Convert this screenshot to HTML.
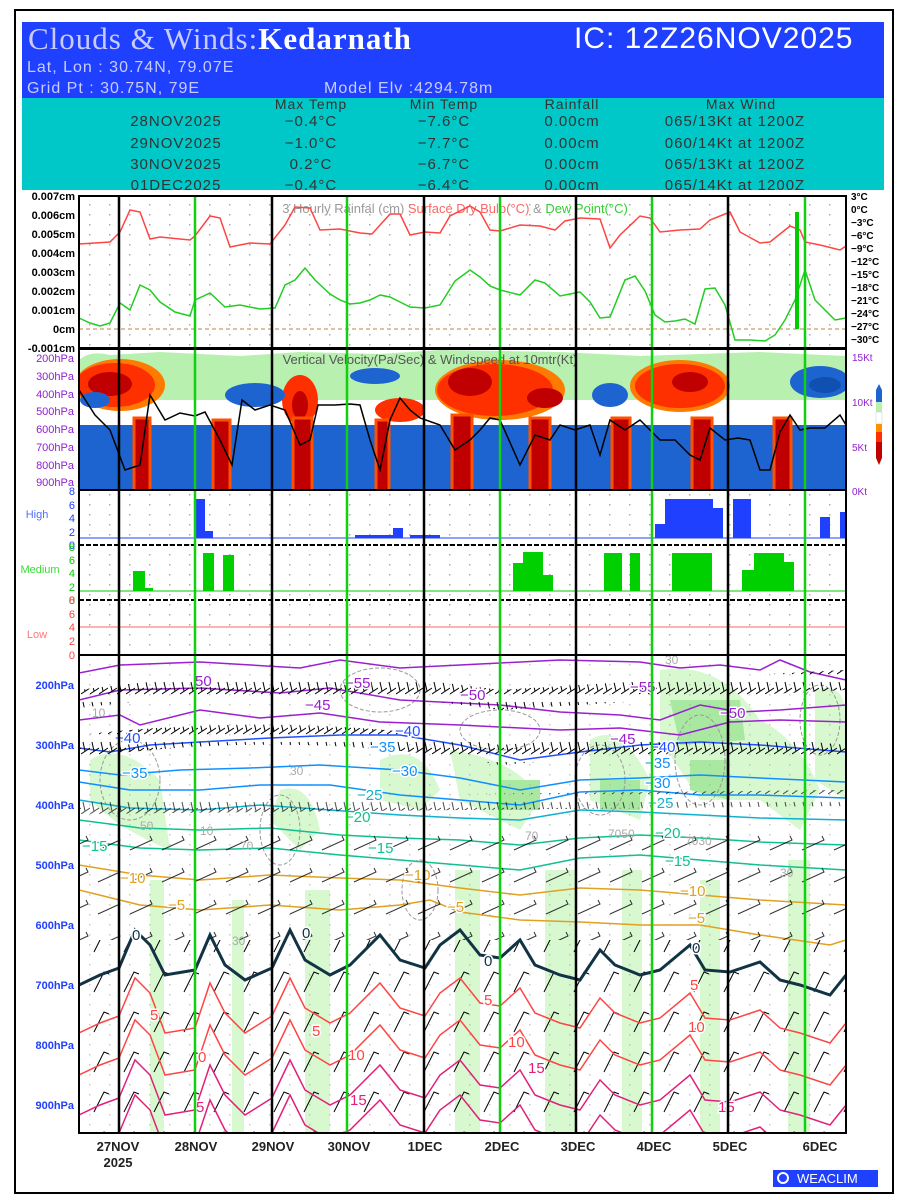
<!DOCTYPE html>
<html><head><meta charset="utf-8"><style>
html,body{margin:0;padding:0;background:#fff;}
svg{display:block;font-family:"Liberation Sans",sans-serif;}
</style></head><body>
<svg width="900" height="1200" viewBox="0 0 900 1200" xmlns="http://www.w3.org/2000/svg">
<defs>
<clipPath id="cb"><rect x="79" y="655" width="767" height="478"/></clipPath>
<clipPath id="c2"><rect x="79" y="349" width="767" height="141"/></clipPath>
<pattern id="dots" width="20" height="10" patternUnits="userSpaceOnUse"><rect x="9" y="4" width="1.5" height="1.5" fill="#aaa"/></pattern>
<pattern id="barbs" width="9" height="20" patternUnits="userSpaceOnUse"><path d="M0 14 L9 8 M4 11 L2 2" stroke="#000" stroke-width="1" fill="none"/></pattern>
<pattern id="lowbarbs" width="30" height="40" patternUnits="userSpaceOnUse"><path d="M4 32 L14 12 L19 14" stroke="#000" stroke-width="1" fill="none"/></pattern>
<pattern id="midbarbs" width="32" height="32" patternUnits="userSpaceOnUse"><path d="M2 18 L24 8 L22 4" stroke="#000" stroke-width="1" fill="none"/></pattern>
</defs>
<rect x="15" y="10" width="878" height="1183" fill="#fff" stroke="#000" stroke-width="2"/>
<rect x="22" y="22" width="862" height="76" fill="#2040ff"/>
<text x="28" y="49" font-family="Liberation Serif,serif" font-size="31" fill="#c8ccff" letter-spacing="1">Clouds &amp; Winds:<tspan fill="#fff" font-weight="bold">Kedarnath</tspan></text>
<text x="574" y="48" font-size="30" fill="#fff" letter-spacing="1">IC: 12Z26NOV2025</text>
<text x="27" y="72" font-size="16" fill="#c8ccff" letter-spacing="1">Lat, Lon : 30.74N, 79.07E</text>
<text x="27" y="93" font-size="16" fill="#c8ccff" letter-spacing="1">Grid Pt  : 30.75N, 79E</text>
<text x="324" y="93" font-size="16" fill="#c8ccff" letter-spacing="1">Model Elv :4294.78m</text>
<rect x="22" y="98" width="862" height="92" fill="#00c8c8"/>
<g font-size="14" fill="#333" text-anchor="middle" letter-spacing="1">
<text x="311" y="109">Max Temp</text><text x="444" y="109">Min Temp</text><text x="572" y="109">Rainfall</text><text x="741" y="109">Max Wind</text>
</g>
<g font-size="15" fill="#333" text-anchor="middle" letter-spacing="1">
<text x="176" y="126">28NOV2025</text><text x="311" y="126">−0.4°C</text><text x="444" y="126">−7.6°C</text><text x="572" y="126">0.00cm</text><text x="735" y="126">065/13Kt at 1200Z</text>
<text x="176" y="148">29NOV2025</text><text x="311" y="148">−1.0°C</text><text x="444" y="148">−7.7°C</text><text x="572" y="148">0.00cm</text><text x="735" y="148">060/14Kt at 1200Z</text>
<text x="176" y="169">30NOV2025</text><text x="311" y="169">0.2°C</text><text x="444" y="169">−6.7°C</text><text x="572" y="169">0.00cm</text><text x="735" y="169">065/13Kt at 1200Z</text>
<text x="176" y="190">01DEC2025</text><text x="311" y="190">−0.4°C</text><text x="444" y="190">−6.4°C</text><text x="572" y="190">0.00cm</text><text x="735" y="190">065/14Kt at 1200Z</text>
</g>
<rect x="79" y="196" width="767" height="152" fill="url(#dots)"/>
<line x1="79" y1="329" x2="846" y2="329" stroke="#c08040" stroke-dasharray="4,3"/>
<text x="455" y="213" font-size="13" fill="#999" text-anchor="middle">3 Hourly Rainfal (cm) <tspan fill="#f66">Surface Dry Bulb(°C)</tspan> &amp; <tspan fill="#3c3">Dew Point(°C)</tspan></text>
<polyline fill="none" stroke="#f44" stroke-width="1.5" points="79,244 95,243 110,242 120,232 130,210 140,212 150,239 160,237 190,240 195,236 210,216 220,218 230,247 250,243 270,244 285,225 295,207 310,208 320,230 340,229 360,233 372,234 390,214 400,214 410,235 425,232 440,233 450,216 470,206 480,212 490,230 500,231 520,225 540,226 555,230 565,221 580,218 600,219 610,248 620,235 640,216 650,218 660,232 680,230 700,229 710,220 730,212 740,232 760,243 770,242 780,234 790,226 800,230 805,242 820,245 840,250 846,246"/>
<polyline fill="none" stroke="#2c2" stroke-width="1.5" points="79,318 90,323 100,326 110,323 120,303 130,310 140,285 150,290 160,302 175,312 190,316 195,300 210,293 225,307 240,305 260,309 275,308 285,285 295,280 305,268 315,280 330,294 340,300 350,304 360,303 370,300 380,295 390,297 400,302 410,307 425,308 440,305 455,281 470,270 480,277 490,286 500,290 520,295 535,280 545,283 560,296 580,292 590,302 600,318 610,317 625,280 635,276 645,291 655,315 665,322 675,321 685,319 695,324 705,289 715,288 725,305 735,340 750,340 765,341 775,335 785,320 795,300 805,270 815,300 825,310 835,320 846,318"/>
<rect x="795" y="212" width="4" height="117" fill="#0c0"/>
<g font-size="11" font-weight="bold" text-anchor="end" fill="#000">
<text x="75" y="200">0.007cm</text><text x="75" y="219">0.006cm</text><text x="75" y="238">0.005cm</text><text x="75" y="257">0.004cm</text><text x="75" y="276">0.003cm</text><text x="75" y="295">0.002cm</text><text x="75" y="314">0.001cm</text><text x="75" y="333">0cm</text><text x="75" y="352">-0.001cm</text>
</g>
<g font-size="10" font-weight="bold" fill="#000">
<text x="851" y="200">3°C</text><text x="851" y="213">0°C</text><text x="851" y="226">−3°C</text><text x="851" y="239">−6°C</text><text x="851" y="252">−9°C</text><text x="851" y="265">−12°C</text><text x="851" y="278">−15°C</text><text x="851" y="291">−18°C</text><text x="851" y="304">−21°C</text><text x="851" y="317">−24°C</text><text x="851" y="330">−27°C</text><text x="851" y="343">−30°C</text>
</g>
<rect x="79" y="349" width="767" height="141" fill="#fff"/>
<g clip-path="url(#c2)">
<path d="M79 360 Q90 350 110 355 L160 352 L240 356 L300 352 L380 354 L440 350 L560 352 L640 356 L760 352 L846 356 L846 400 L79 400Z" fill="#b8f0b0"/>
<ellipse cx="120" cy="385" rx="45" ry="26" fill="#ff7a00"/><ellipse cx="115" cy="385" rx="40" ry="22" fill="#ff3000"/><ellipse cx="110" cy="384" rx="22" ry="12" fill="#c00000"/>
<ellipse cx="300" cy="400" rx="18" ry="25" fill="#ff3000"/><ellipse cx="300" cy="405" rx="8" ry="14" fill="#c00000"/>
<ellipse cx="255" cy="395" rx="30" ry="12" fill="#1e64d0"/><ellipse cx="95" cy="400" rx="15" ry="8" fill="#1e64d0"/>
<ellipse cx="500" cy="390" rx="65" ry="30" fill="#ff7a00"/><ellipse cx="495" cy="390" rx="58" ry="26" fill="#ff3000"/><ellipse cx="470" cy="382" rx="22" ry="14" fill="#c00000"/><ellipse cx="545" cy="398" rx="18" ry="10" fill="#c00000"/>
<ellipse cx="400" cy="410" rx="25" ry="12" fill="#ff3000"/><ellipse cx="375" cy="376" rx="25" ry="8" fill="#1e64d0"/>
<ellipse cx="680" cy="386" rx="50" ry="26" fill="#ff7a00"/><ellipse cx="680" cy="386" rx="45" ry="22" fill="#ff3000"/><ellipse cx="690" cy="382" rx="18" ry="10" fill="#c00000"/>
<ellipse cx="610" cy="395" rx="18" ry="12" fill="#1e64d0"/><ellipse cx="820" cy="382" rx="30" ry="16" fill="#1e64d0"/><ellipse cx="825" cy="385" rx="16" ry="8" fill="#1050b0"/>
<rect x="79" y="425" width="767" height="65" fill="#1e64d0"/>
<g fill="#c00000" stroke="#ff5000" stroke-width="3">
<rect x="134" y="418" width="16" height="75"/><rect x="213" y="420" width="17" height="73"/><rect x="293" y="418" width="19" height="75"/><rect x="376" y="420" width="13" height="73"/><rect x="452" y="415" width="20" height="78"/><rect x="530" y="418" width="20" height="75"/><rect x="612" y="418" width="18" height="75"/><rect x="692" y="418" width="20" height="75"/><rect x="774" y="418" width="17" height="75"/>
</g>
</g>
<text x="430" y="364" font-size="13" fill="#555" text-anchor="middle">Vertical Velocity(Pa/Sec) &amp; Windspeed at 10mtr(Kt)</text>
<polyline fill="none" stroke="#000" stroke-width="1.5" points="79,390 95,415 110,430 125,470 140,465 150,395 165,420 180,413 195,416 205,412 220,440 232,465 242,400 255,410 270,405 285,410 300,445 310,440 318,405 335,405 350,404 360,405 370,440 380,470 390,420 400,398 410,410 420,418 440,425 455,450 470,440 480,430 490,418 500,420 520,465 535,435 550,440 560,425 575,430 590,425 600,455 610,420 625,430 640,420 660,440 675,440 690,455 700,460 710,428 725,440 738,438 750,440 760,470 770,470 780,432 790,415 800,430 810,428 825,428 840,415 846,425"/>
<g font-size="11" fill="#9020d0" text-anchor="end">
<text x="74" y="362">200hPa</text><text x="74" y="380">300hPa</text><text x="74" y="398">400hPa</text><text x="74" y="415">500hPa</text><text x="74" y="433">600hPa</text><text x="74" y="451">700hPa</text><text x="74" y="469">800hPa</text><text x="74" y="486">900hPa</text>
</g>
<g font-size="10" fill="#9020d0"><text x="852" y="361">15Kt</text><text x="852" y="406">10Kt</text><text x="852" y="451">5Kt</text><text x="852" y="495">0Kt</text></g>
<g><rect x="876" y="390" width="6" height="12" fill="#1e64d0"/><rect x="876" y="402" width="6" height="10" fill="#b8f0b0"/><rect x="876" y="412" width="6" height="12" fill="#fff" stroke="#ccc" stroke-width="0.5"/><rect x="876" y="424" width="6" height="8" fill="#ff9000"/><rect x="876" y="432" width="6" height="10" fill="#ff3000"/><rect x="876" y="442" width="6" height="16" fill="#c00000"/><path d="M876 390 L879 384 L882 390Z" fill="#1e64d0"/><path d="M876 458 L879 465 L882 458Z" fill="#c00000"/></g>
<rect x="79" y="491" width="767" height="164" fill="url(#dots)"/>
<line x1="79" y1="545" x2="846" y2="545" stroke="#000" stroke-width="2" stroke-dasharray="5,2"/>
<line x1="79" y1="600" x2="846" y2="600" stroke="#000" stroke-width="2" stroke-dasharray="5,2"/>
<line x1="79" y1="538" x2="846" y2="538" stroke="#2040ff" stroke-width="1"/>
<g fill="#2040ff"><rect x="195" y="499" width="10" height="39"/><rect x="205" y="531" width="8" height="7"/><rect x="355" y="535" width="40" height="3"/><rect x="393" y="528" width="10" height="10"/><rect x="410" y="535" width="30" height="3"/><rect x="655" y="524" width="10" height="14"/><rect x="665" y="499" width="48" height="39"/><rect x="713" y="508" width="10" height="30"/><rect x="733" y="499" width="18" height="39"/><rect x="820" y="517" width="10" height="21"/><rect x="840" y="512" width="6" height="26"/></g>
<line x1="79" y1="591" x2="846" y2="591" stroke="#0c0" stroke-width="1"/>
<g fill="#00d000"><rect x="133" y="571" width="12" height="20"/><rect x="145" y="588" width="8" height="3"/><rect x="203" y="553" width="11" height="38"/><rect x="223" y="555" width="11" height="36"/><rect x="513" y="563" width="10" height="28"/><rect x="523" y="552" width="20" height="39"/><rect x="543" y="575" width="10" height="16"/><rect x="604" y="553" width="18" height="38"/><rect x="630" y="553" width="10" height="38"/><rect x="672" y="553" width="40" height="38"/><rect x="742" y="570" width="12" height="21"/><rect x="754" y="553" width="30" height="38"/><rect x="784" y="562" width="10" height="29"/></g>
<line x1="79" y1="627" x2="846" y2="627" stroke="#f66" stroke-width="1"/>
<text x="37" y="518" font-size="11" fill="#5070ff" text-anchor="middle">High</text>
<text x="40" y="573" font-size="11" fill="#3d3" text-anchor="middle">Medium</text>
<text x="37" y="638" font-size="11" fill="#f77" text-anchor="middle">Low</text>
<g font-size="11" text-anchor="end">
<text x="75" y="495" fill="#2040ff">8</text><text x="75" y="509" fill="#2040ff">6</text><text x="75" y="522" fill="#2040ff">4</text><text x="75" y="536" fill="#2040ff">2</text><text x="75" y="549" fill="#2040ff">0</text>
<text x="75" y="551" fill="#0c0">8</text><text x="75" y="564" fill="#0c0">6</text><text x="75" y="577" fill="#0c0">4</text><text x="75" y="591" fill="#0c0">2</text><text x="75" y="604" fill="#0c0">0</text>
<text x="75" y="604" fill="#f44">8</text><text x="75" y="618" fill="#f44">6</text><text x="75" y="631" fill="#f44">4</text><text x="75" y="645" fill="#f44">2</text><text x="75" y="659" fill="#f44">0</text>
</g>
<g clip-path="url(#cb)">
<g fill="#d8f8d0">
<path d="M90 760 Q120 740 160 780 L170 850 Q120 830 90 800Z"/><path d="M280 790 Q310 780 320 830 L300 850 L270 820Z"/><path d="M380 760 Q420 740 440 790 L420 810 L380 800Z"/><path d="M450 750 Q520 760 540 800 L520 830 L460 800Z"/><path d="M590 740 Q620 720 650 780 L640 820 L590 800Z"/><path d="M660 670 Q720 660 760 720 L770 800 L700 800 L660 740Z"/><path d="M760 720 Q800 740 820 790 L800 830 L760 800Z"/><path d="M815 690 Q846 680 846 720 L846 800 L815 780Z"/>
<rect x="150" y="880" width="14" height="253"/><rect x="232" y="900" width="12" height="233"/><rect x="305" y="890" width="25" height="243"/><rect x="455" y="870" width="25" height="263"/><rect x="545" y="870" width="30" height="263"/><rect x="622" y="870" width="20" height="263"/><rect x="700" y="880" width="20" height="253"/><rect x="788" y="860" width="22" height="273"/>
</g>
<g fill="#a8e8a0"><path d="M670 700 L740 700 L745 740 L680 745Z"/><path d="M690 760 L730 760 L730 800 L690 790Z"/><path d="M500 780 L540 780 L540 810 L500 810Z"/><path d="M600 780 L640 780 L640 810 L600 810Z"/></g>
<g fill="none" stroke="#999" stroke-width="1" stroke-dasharray="4,2">
<ellipse cx="380" cy="690" rx="40" ry="22"/><ellipse cx="500" cy="730" rx="40" ry="20"/><ellipse cx="600" cy="780" rx="25" ry="35"/><ellipse cx="700" cy="760" rx="25" ry="45"/><ellipse cx="130" cy="780" rx="30" ry="40"/><ellipse cx="280" cy="830" rx="20" ry="35"/><ellipse cx="820" cy="720" rx="20" ry="35"/><ellipse cx="420" cy="890" rx="18" ry="30"/>
</g>
<rect x="79" y="655" width="767" height="478" fill="url(#dots)" opacity="0.6"/>
<polyline fill="none" stroke="#9a20d0" stroke-width="1.5" points="79,673 120,665 200,662 300,668 340,660 400,668 500,663 560,660 640,662 680,668 720,665 760,670 780,660 810,672 846,680"/>
<polyline fill="none" stroke="#9a20d0" stroke-width="1.5" points="79,700 120,690 200,688 280,693 330,688 400,700 500,705 560,712 620,715 660,720 700,705 740,712 780,710 846,705"/>
<polyline fill="none" stroke="#9a20d0" stroke-width="1.5" points="79,720 120,715 140,725 200,710 260,718 320,713 380,722 460,725 520,728 560,730 620,728 680,735 730,722 780,720 846,722"/>
<polyline fill="none" stroke="#2050ff" stroke-width="1.5" points="79,748 110,752 150,745 200,742 270,738 340,735 400,735 460,745 520,760 580,752 640,745 700,742 760,745 846,752"/>
<polyline fill="none" stroke="#1090ff" stroke-width="1.5" points="79,770 120,775 180,770 250,768 320,765 400,770 460,778 520,790 580,780 640,778 700,775 760,778 846,782"/>
<polyline fill="none" stroke="#1090ff" stroke-width="1.5" points="79,782 130,790 200,790 260,785 330,785 400,795 460,800 520,805 580,792 640,790 700,795 760,795 846,798"/>
<polyline fill="none" stroke="#10b0d0" stroke-width="1.5" points="79,800 130,808 200,810 260,805 330,810 400,815 460,818 520,820 580,810 640,812 700,815 760,818 846,820"/>
<polyline fill="none" stroke="#10c090" stroke-width="1.5" points="79,820 140,828 200,830 270,828 340,835 400,838 460,840 520,845 580,838 640,835 700,838 760,842 846,845"/>
<polyline fill="none" stroke="#10c090" stroke-width="1.5" points="79,840 140,848 200,850 270,848 340,855 400,860 460,865 520,870 580,858 640,855 700,860 760,865 846,870"/>
<polyline fill="none" stroke="#e0a020" stroke-width="1.5" points="79,865 140,875 200,880 270,875 340,878 400,880 460,888 520,895 580,888 640,890 700,895 760,900 846,905"/>
<polyline fill="none" stroke="#e0a020" stroke-width="1.5" points="79,890 140,905 200,910 270,905 340,910 400,905 430,900 460,912 520,920 580,922 640,925 700,925 760,935 830,945 846,940"/>
<path d="M79 690 Q300 660 500 690 Q650 680 846 670 L846 690 Q650 700 500 710 Q300 680 79 708Z" fill="url(#barbs)"/>
<path d="M79 735 Q300 710 500 745 Q700 730 846 745 L846 762 Q700 748 500 765 Q300 728 79 758Z" fill="url(#barbs)"/>
<path d="M79 798 L846 790 L846 806 L79 814Z" fill="url(#barbs)" opacity="0.7"/>
<rect x="79" y="830" width="767" height="110" fill="url(#midbarbs)" opacity="0.8"/>
<rect x="79" y="940" width="767" height="193" fill="url(#lowbarbs)"/>
<polyline fill="none" stroke="#113344" stroke-width="3" points="79,985 100,975 119,968 135,930 150,945 165,975 195,970 210,935 225,965 245,980 272,968 290,930 305,960 330,975 350,965 380,935 400,960 425,968 440,945 460,930 480,955 500,958 520,940 535,965 560,975 580,980 600,950 615,965 640,975 660,970 690,945 705,970 730,972 760,962 780,980 800,985 830,995 846,975"/>
<g id="wv" fill="none" stroke-width="1.5">
<polyline stroke="#f44" transform="translate(0,48)" points="79,985 100,975 119,968 135,930 150,945 165,985 195,980 210,935 225,965 245,985 272,968 290,930 305,960 330,975 350,965 380,935 400,960 425,968 440,945 460,930 480,955 500,958 520,940 535,965 560,975 580,980 600,950 615,965 640,975 660,970 690,945 705,970 730,972 760,962 780,980 800,985 830,995 846,975"/>
<polyline stroke="#f44" transform="translate(0,90)" points="79,985 100,975 119,968 135,930 150,945 165,985 195,980 210,935 225,965 245,985 272,968 290,930 305,960 330,975 350,965 380,935 400,960 425,968 440,945 460,930 480,955 500,958 520,940 535,965 560,975 580,980 600,950 615,965 640,975 660,970 690,945 705,970 730,972 760,962 780,980 800,985 830,995 846,975"/>
<polyline stroke="#e0207a" transform="translate(0,130)" points="79,985 100,975 119,968 135,930 150,945 165,985 195,980 210,935 225,965 245,985 272,968 290,930 305,960 330,975 350,965 380,935 400,960 425,968 440,945 460,930 480,955 500,958 520,940 535,965 560,975 580,980 600,950 615,965 640,975 660,970 690,945 705,970 730,972 760,962 780,980 800,985 830,995 846,975"/>
<polyline stroke="#e0207a" transform="translate(0,165)" points="79,985 100,975 119,968 135,930 150,945 165,985 195,980 210,935 225,965 245,985 272,968 290,930 305,960 330,975 350,965 380,935 400,960 425,968 440,945 460,930 480,955 500,958 520,940 535,965 560,975 580,980 600,950 615,965 640,975 660,970 690,945 705,970 730,972 760,962 780,980 800,985 830,995 846,975"/>
</g>
</g>
<g font-size="15" paint-order="stroke" stroke="#fff" stroke-width="3">
<text x="195" y="686" fill="#9a20d0">50</text><text x="345" y="688" fill="#9a20d0">−55</text><text x="460" y="700" fill="#9a20d0">−50</text><text x="630" y="692" fill="#9a20d0">−55</text><text x="720" y="718" fill="#9a20d0">−50</text><text x="305" y="710" fill="#9a20d0">−45</text><text x="610" y="744" fill="#9a20d0">−45</text>
<text x="115" y="743" fill="#2050ff">−40</text><text x="395" y="736" fill="#2050ff">−40</text><text x="650" y="752" fill="#2050ff">−40</text>
<text x="122" y="778" fill="#1090ff">−35</text><text x="370" y="752" fill="#1090ff">−35</text><text x="645" y="768" fill="#1090ff">−35</text><text x="392" y="776" fill="#1090ff">−30</text><text x="645" y="788" fill="#1090ff">−30</text>
<text x="357" y="800" fill="#10b0d0">−25</text><text x="648" y="808" fill="#10b0d0">−25</text><text x="345" y="822" fill="#10c090">−20</text><text x="655" y="838" fill="#10c090">−20</text>
<text x="82" y="851" fill="#10c090">−15</text><text x="368" y="853" fill="#10c090">−15</text><text x="665" y="866" fill="#10c090">−15</text>
<text x="120" y="883" fill="#e0a020">−10</text><text x="405" y="880" fill="#e0a020">−10</text><text x="680" y="896" fill="#e0a020">−10</text>
<text x="168" y="910" fill="#e0a020">−5</text><text x="447" y="912" fill="#e0a020">−5</text><text x="688" y="923" fill="#e0a020">−5</text>
<text x="132" y="940" fill="#113344">0</text><text x="302" y="938" fill="#113344">0</text><text x="484" y="966" fill="#113344">0</text><text x="692" y="953" fill="#113344">0</text>
<text x="150" y="1020" fill="#f44">5</text><text x="312" y="1036" fill="#f44">5</text><text x="484" y="1005" fill="#f44">5</text><text x="690" y="990" fill="#f44">5</text>
<text x="348" y="1060" fill="#f44">10</text><text x="508" y="1047" fill="#f44">10</text><text x="688" y="1032" fill="#f44">10</text>
<text x="198" y="1062" fill="#f44">0</text><text x="528" y="1073" fill="#e0207a">15</text><text x="350" y="1105" fill="#e0207a">15</text><text x="718" y="1112" fill="#e0207a">15</text><text x="196" y="1112" fill="#e0207a">5</text>
</g>
<g font-size="12" fill="#aaa"><text x="92" y="717">10</text><text x="140" y="830">50</text><text x="200" y="835">10</text><text x="240" y="850">70</text><text x="290" y="775">30</text><text x="525" y="840">70</text><text x="608" y="838">7050</text><text x="685" y="845">7030</text><text x="780" y="877">30</text><text x="665" y="664">30</text><text x="232" y="945">30</text></g>
<g font-size="11" font-weight="bold" fill="#2040ff" text-anchor="end">
<text x="74" y="689">200hPa</text><text x="74" y="749">300hPa</text><text x="74" y="809">400hPa</text><text x="74" y="869">500hPa</text><text x="74" y="929">600hPa</text><text x="74" y="989">700hPa</text><text x="74" y="1049">800hPa</text><text x="74" y="1109">900hPa</text>
</g>
<g stroke="#000" stroke-width="2.5"><line x1="119" y1="196" x2="119" y2="1133"/><line x1="272" y1="196" x2="272" y2="1133"/><line x1="424" y1="196" x2="424" y2="1133"/><line x1="576" y1="196" x2="576" y2="1133"/><line x1="728" y1="196" x2="728" y2="1133"/></g>
<g stroke="#10d010" stroke-width="2.5"><line x1="195" y1="196" x2="195" y2="1133"/><line x1="347" y1="196" x2="347" y2="1133"/><line x1="500" y1="196" x2="500" y2="1133"/><line x1="652" y1="196" x2="652" y2="1133"/><line x1="805" y1="196" x2="805" y2="1133"/></g>
<g fill="none" stroke="#000" stroke-width="2"><rect x="79" y="196" width="767" height="152"/><rect x="79" y="349" width="767" height="141"/><rect x="79" y="490" width="767" height="165"/><rect x="79" y="655" width="767" height="478"/></g>
<g font-size="13" font-weight="bold" fill="#222" text-anchor="middle">
<text x="118" y="1151">27NOV</text><text x="118" y="1167">2025</text><text x="196" y="1151">28NOV</text><text x="273" y="1151">29NOV</text><text x="349" y="1151">30NOV</text><text x="425" y="1151">1DEC</text><text x="502" y="1151">2DEC</text><text x="578" y="1151">3DEC</text><text x="654" y="1151">4DEC</text><text x="730" y="1151">5DEC</text><text x="820" y="1151">6DEC</text>
</g>
<rect x="773" y="1170" width="105" height="17" fill="#2040ff"/>
<circle cx="783" cy="1178" r="5" fill="none" stroke="#fff" stroke-width="2"/>
<text x="797" y="1183" font-size="13" fill="#fff">WEACLIM</text>
</svg>
</body></html>
